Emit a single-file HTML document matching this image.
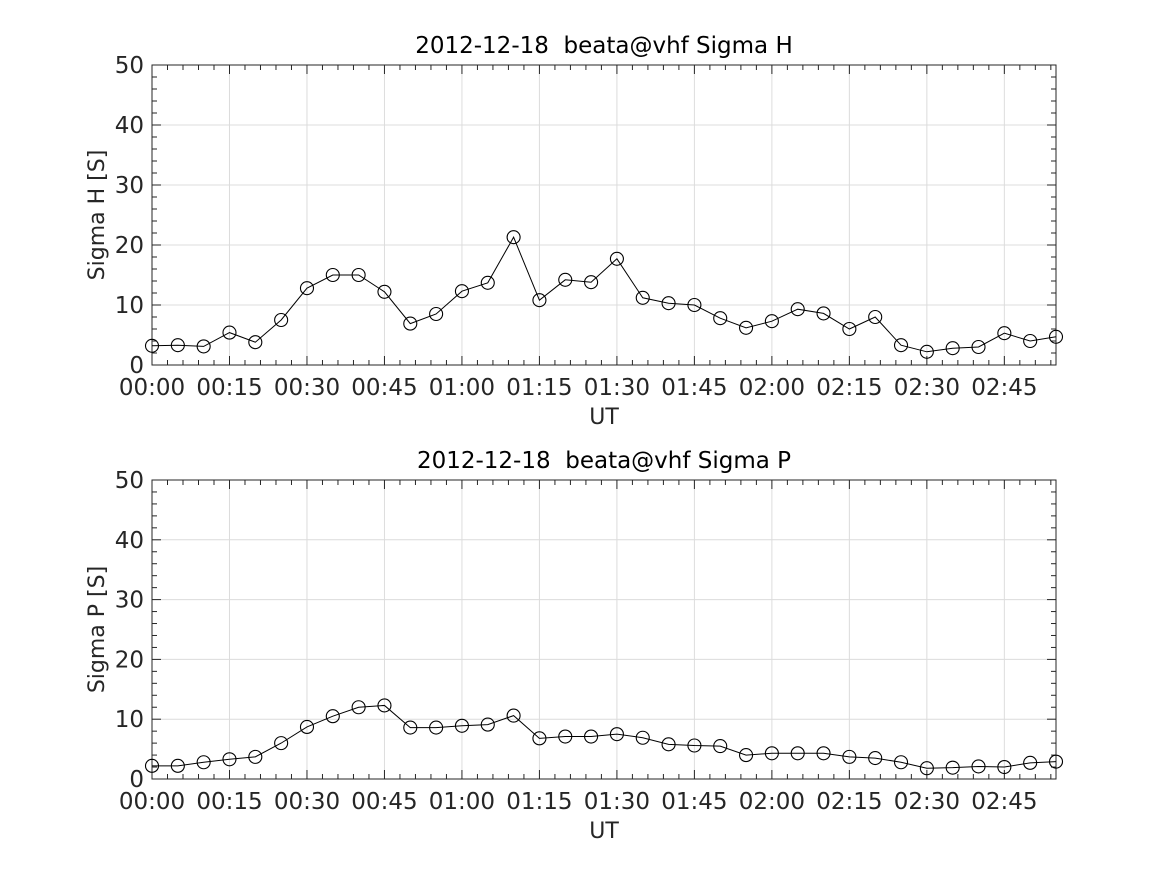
<!DOCTYPE html><html><head><style>body{margin:0;background:#fff}</style></head><body>
<svg id="s" width="1167" height="875" xmlns="http://www.w3.org/2000/svg" font-family="DejaVu Sans, Liberation Sans, sans-serif"></svg>
<script>
const H=[3.2,3.3,3.1,5.4,3.8,7.5,12.8,15,15,12.2,6.9,8.5,12.3,13.7,21.3,10.8,14.2,13.8,17.7,11.2,10.3,10,7.8,6.2,7.3,9.3,8.6,6,8,3.3,2.2,2.8,3,5.3,4,4.7];
const P=[2.2,2.2,2.8,3.3,3.7,6,8.7,10.5,12,12.3,8.6,8.6,8.9,9.1,10.6,6.8,7.1,7.1,7.5,6.9,5.8,5.6,5.5,4,4.3,4.3,4.3,3.7,3.5,2.8,1.8,1.9,2.1,2,2.7,2.9];
let o='';const L=152,R=1056,W=R-L,pm=W/175;
function plot(top,bot,data,title,ylab){
 const sy=(bot-top)/50,X=m=>L+m*pm,Y=v=>bot-v*sy;
 for(let v=10;v<50;v+=10)o+=`<line x1="${L}" x2="${R}" y1="${Y(v)}" y2="${Y(v)}" stroke="#dcdcdc"/>`;
 for(let m=15;m<175;m+=15)o+=`<line x1="${X(m)}" x2="${X(m)}" y1="${top}" y2="${bot}" stroke="#dcdcdc"/>`;
 o+=`<rect x="${L}" y="${top}" width="${W}" height="${bot-top}" fill="none" stroke="#262626"/>`;
 for(let m=0;m<=175;m+=3){const x=X(m),l=m%15==0?9:5;o+=`<line x1="${x}" x2="${x}" y1="${bot}" y2="${bot-l}" stroke="#262626"/><line x1="${x}" x2="${x}" y1="${top}" y2="${top+l}" stroke="#262626"/>`;}
 for(let v=0;v<=50;v+=2){const y=Y(v),l=v%10==0?9:5;o+=`<line x1="${L}" x2="${L+l}" y1="${y}" y2="${y}" stroke="#262626"/><line x1="${R}" x2="${R-l}" y1="${y}" y2="${y}" stroke="#262626"/>`;}
 for(let v=0;v<=50;v+=10)o+=`<text x="${L-8}" y="${Y(v)+8}" text-anchor="end" font-size="23" fill="#262626">${v}</text>`;
 const lb=['00:00','00:15','00:30','00:45','01:00','01:15','01:30','01:45','02:00','02:15','02:30','02:45'];
 lb.forEach((t,i)=>o+=`<text x="${X(i*15)}" y="${bot+30}" text-anchor="middle" font-size="23" fill="#262626">${t}</text>`);
 o+=`<text x="${(L+R)/2}" y="${bot+59}" text-anchor="middle" font-size="22" fill="#262626">UT</text>`;
 o+=`<text x="${(L+R)/2}" y="${top-12}" text-anchor="middle" font-size="23" fill="#000">${title}</text>`;
 o+=`<text transform="translate(104,${(top+bot)/2}) rotate(-90)" text-anchor="middle" font-size="22" fill="#262626">${ylab}</text>`;
 o+=`<polyline fill="none" stroke="#000" points="${data.map((v,i)=>X(i*5)+','+Y(v)).join(' ')}"/>`;
 data.forEach((v,i)=>o+=`<circle cx="${X(i*5)}" cy="${Y(v)}" r="6.5" fill="none" stroke="#000" stroke-width="1.1"/>`);
}
plot(65,365,H,'2012-12-18&#160;&#160;beata@vhf Sigma H','Sigma H [S]');
plot(480,779,P,'2012-12-18&#160;&#160;beata@vhf Sigma P','Sigma P [S]');
document.getElementById('s').innerHTML=o;
</script></body></html>
